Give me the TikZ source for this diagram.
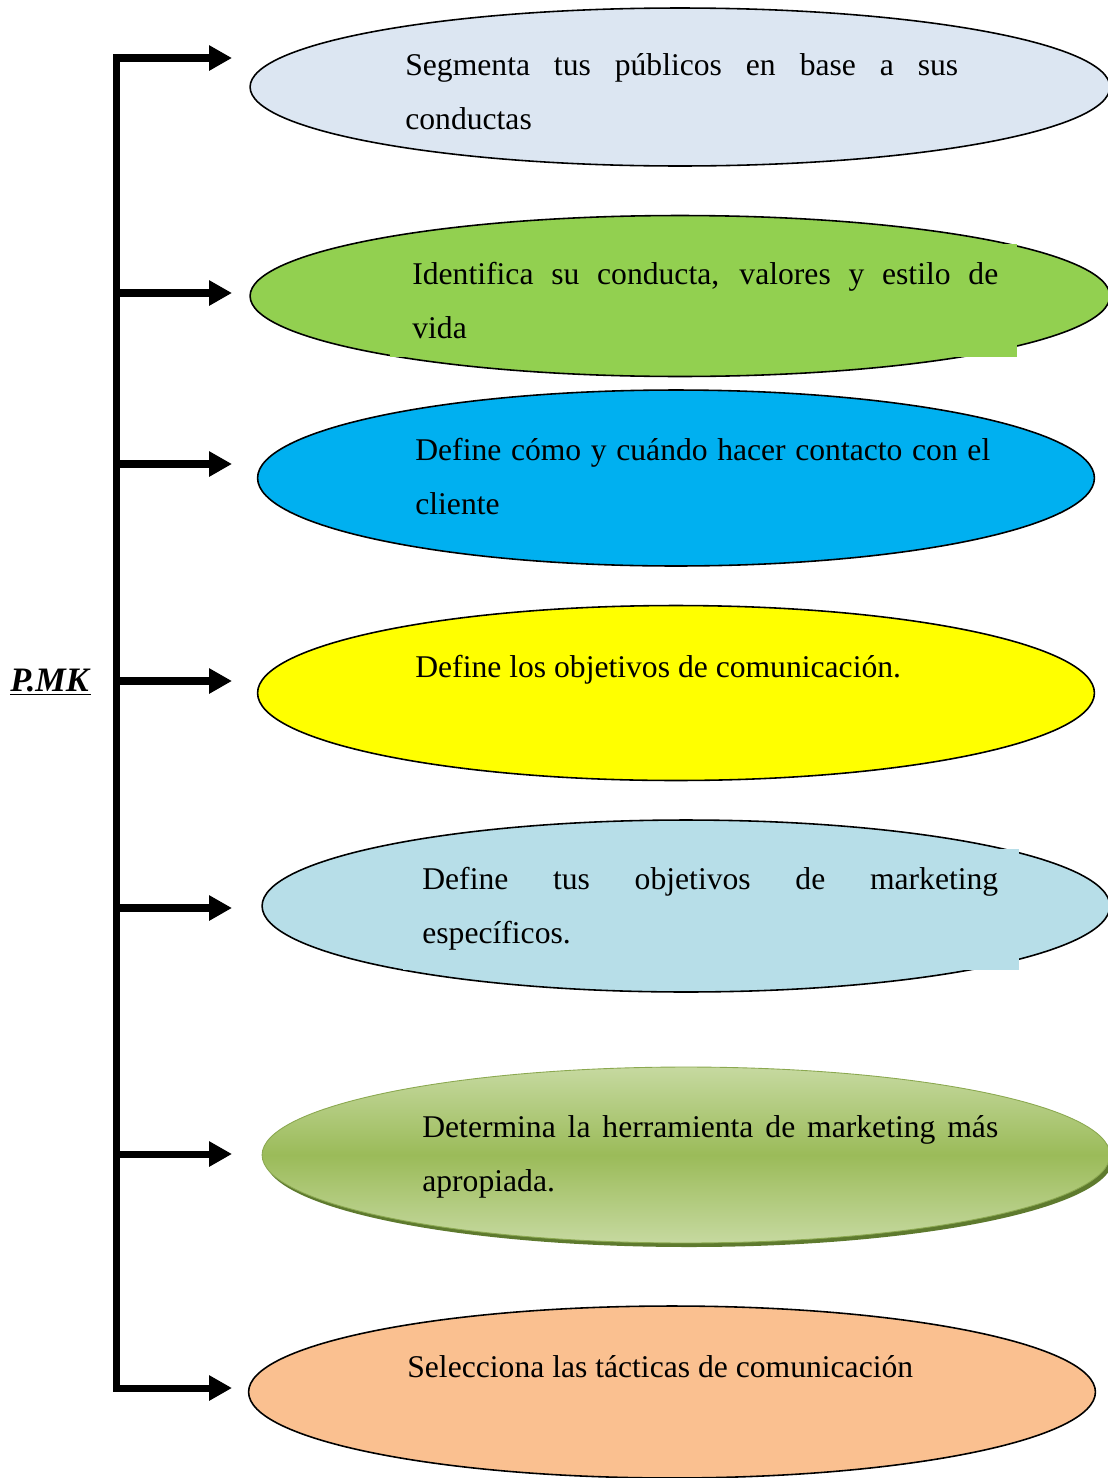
\documentclass[tikz,border=0pt]{standalone}
\usepackage{fontspec}
\setmainfont{Liberation Serif}
\usepackage{tikz}
\usepackage{xcolor}
\usetikzlibrary{arrows.meta,shapes.geometric}

\definecolor{paleblue}{HTML}{DCE6F2}
\definecolor{leafgreen}{HTML}{92D050}
\definecolor{skycyan}{HTML}{00B0F0}
\definecolor{lemon}{HTML}{FFFF00}
\definecolor{aquablue}{HTML}{B7DEE8}
\definecolor{olivelight}{HTML}{C6D9A0}
\definecolor{olivemid}{HTML}{9BBB59}
\definecolor{oliveshadow}{HTML}{5E7A2E}
\definecolor{peach}{HTML}{FAC090}

\tolerance=10000
\hbadness=10000

\begin{document}
\begin{tikzpicture}[x=0.02cm,y=-0.02cm]
\tikzstyle{every node}+=[inner sep=0pt]
\tikzstyle{oval}=[ellipse,draw=black,line width=0.9pt]
\tikzstyle{label}=[anchor=base west,align=justify,font=\fontsize{18pt}{31.2pt}\selectfont]
\tikzstyle{branch}=[line width=4pt,-{Triangle[length=13pt,width=13.6pt]}]
\useasboundingbox (0,0) rectangle (1107,1478);

% the seven steps
\node [oval,fill=paleblue,minimum width=17.2cm,minimum height=3.16cm] (e1) at (680,87) {};
\node [oval,fill=leafgreen,minimum width=17.2cm,minimum height=3.22cm] (e2) at (680,296) {};
\fill [leafgreen] (390,244) rectangle (1017,357);
\node [oval,fill=skycyan,minimum width=16.74cm,minimum height=3.52cm] (e3) at (676,478) {};
\node [oval,fill=lemon,minimum width=16.74cm,minimum height=3.5cm] (e4) at (676,693) {};
\node [oval,fill=aquablue,minimum width=16.96cm,minimum height=3.44cm] (e5) at (686,906) {};
\fill [aquablue] (403,849) rectangle (1019,970);
\fill [oliveshadow] (689,1159) ellipse (424 and 88);
\node [ellipse,draw=olivemid!90!black,line width=0.5pt,top color=olivelight,bottom color=olivelight,middle color=olivemid,minimum width=16.96cm,minimum height=3.52cm] (e6) at (686,1155) {};
\node [oval,fill=peach,minimum width=16.94cm,minimum height=3.44cm] (e7) at (672,1392) {};

\node [label,text width=11.06cm] (l1) at (405,75) {Segmenta tus públicos en base a sus\linebreak conductas};
\node [label,text width=11.72cm] (l2) at (412,284) {Identifica su conducta, valores y estilo de\linebreak vida};
\node [label,text width=11.5cm] (l3) at (415,460) {Define cómo y cuándo hacer contacto con el\linebreak cliente};
\node [label] (l4) at (415,677) {Define los objetivos de comunicación.};
\node [label,text width=11.52cm] (l5) at (422,889) {Define tus objetivos de marketing\linebreak específicos.};
\node [label,text width=11.52cm] (l6) at (422,1137) {Determina la herramienta de marketing más\linebreak apropiada.};
\node [label] (l7) at (407,1377) {Selecciona las tácticas de comunicación};

\node [label,anchor=base west,font=\fontsize{19.5pt}{24pt}\selectfont] (pmk) at (10,691) {\underline{\textbf{\textit{P.MK}}}};

% bracket and arrows
\foreach \i/\y in {1/58,2/293,3/464,4/681,5/908,6/1154,7/1388} {
  \coordinate (s\i) at (116.5,\y);
  \coordinate (t\i) at (232,\y);
}
\draw [branch,{Triangle[length=13pt,width=13.6pt]}-{Triangle[length=13pt,width=13.6pt]},line join=miter] (t1) -- (s1) -- (s7) -- (t7);
\foreach \i in {2,...,6}
  \draw [branch] (s\i) -- (t\i);
\end{tikzpicture}
\end{document}
